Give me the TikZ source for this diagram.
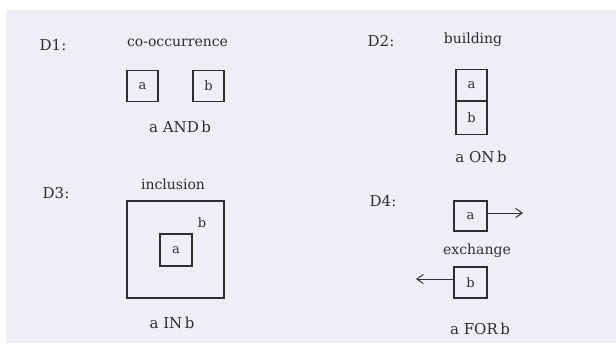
\documentclass[tikz,border=0pt]{standalone}
\usepackage{fontspec}
\setmainfont{DejaVu Serif}
\usetikzlibrary{arrows.meta}
\definecolor{bg}{HTML}{EFEEF6}
\definecolor{ink}{HTML}{2E2E2E}
\tikzset{
  lbl/.style={text=ink, font=\fontsize{15}{17}\selectfont, inner sep=0pt, anchor=center},
  res/.style={text=ink, font=\fontsize{15}{17}\selectfont, inner sep=0pt, anchor=center},
  ttl/.style={text=ink, font=\fontsize{14}{16}\selectfont, inner sep=0pt, anchor=center},
  sq/.style={draw=ink, line width=1.1pt, text=ink, font=\fontsize{13}{14}\selectfont, minimum width=31pt, minimum height=31pt, inner sep=0pt},
  arr/.style={draw=ink, line width=1pt, -{Straight Barb[angle=70:8pt]}}
}
\begin{document}
\begin{tikzpicture}[x=1pt,y=-1pt]
\useasboundingbox (0,0) rectangle (616,353);
\fill[white] (0,0) rectangle (616,353);
\fill[bg] (6,10) rectangle (616,343);
% D1
\node[lbl] (d1) at (53,45) {D1:};
\node[ttl] (t1) at (177.5,43) {co-occurrence};
\node[sq] (a1) at (142.5,86) {a};
\node[sq] (b1) at (208.5,86) {b};
\node[res] (r1) at (180,127) {a AND\,b};
% D2
\node[lbl] (d2) at (381,41) {D2:};
\node[ttl] (t2) at (473,40) {building};
\node[sq, minimum height=31pt] (a2) at (471.5,85) {a};
\node[sq, minimum height=33pt, anchor=north] (b2) at (a2.south) {b};
\node[res] (r2) at (481,157) {a ON\,b};
% D3
\node[lbl] (d3) at (56,193) {D3:};
\node[ttl] (t3) at (173,184) {inclusion};
\node[sq, minimum width=97pt, minimum height=97pt] (b3) at (175.5,249.5) {};
\node[lbl, font=\fontsize{13}{14}\selectfont] (bl3) at (202,223) {b};
\node[sq, minimum width=32pt, minimum height=32pt] (a3) at (176,250) {a};
\node[res] (r3) at (172,323) {a IN\,b};
% D4
\node[lbl] (d4) at (383,201) {D4:};
\node[sq, minimum width=33pt, minimum height=30pt] (a4) at (470.5,216) {a};
\coordinate (ea) at (523,213);
\draw[arr] (a4.east |- ea) -- (ea);
\node[ttl] (t4) at (477,251) {exchange};
\node[sq, minimum width=33pt, minimum height=31pt] (b4) at (470.5,282.5) {b};
\coordinate (eb) at (416,279);
\draw[arr] (b4.west |- eb) -- (eb);
\node[res] (r4) at (480,329) {a FOR\,b};
\end{tikzpicture}
\end{document}
